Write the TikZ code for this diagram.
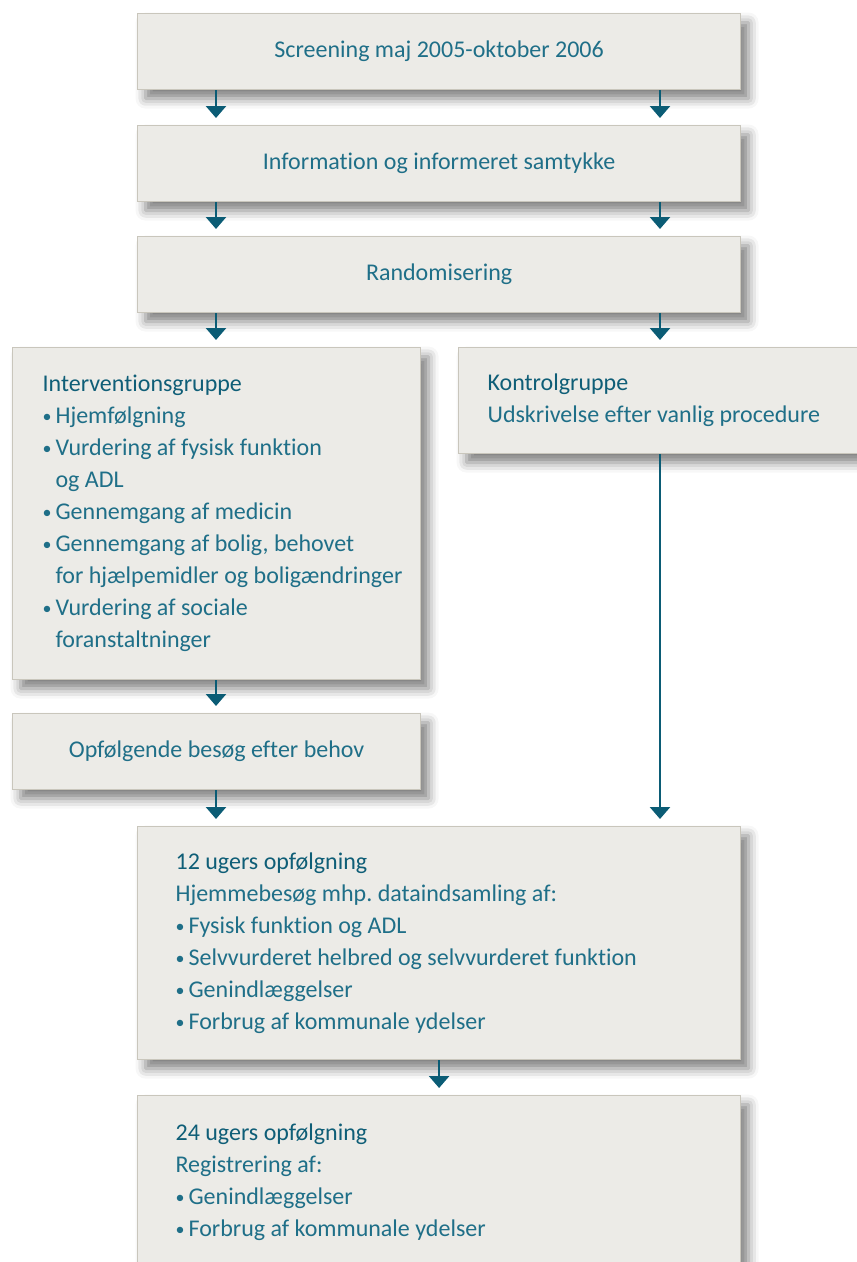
\documentclass[tikz,border=0pt]{standalone}
\usepackage{fontspec}
\setmainfont{Carlito}[Ligatures=NoCommon]
\usetikzlibrary{arrows.meta, positioning, shadows.blur}

\definecolor{boksfyld}{HTML}{ECEBE7}
\definecolor{kant}{HTML}{C9C6BC}
\definecolor{tekst}{HTML}{1F6F88}
\definecolor{overskrift}{HTML}{0F5E77}
\definecolor{pil}{HTML}{0B5C75}

\newcommand{\pkt}{\raisebox{0.12ex}{\scalebox{0.75}{\textbullet}}\,}
\newcommand{\ind}{\phantom{\pkt}}

\begin{document}
\frenchspacing
\begin{tikzpicture}[
    x=1pt, y=-1pt,
    every node/.style={font=\fontsize{24}{32}\selectfont, text=tekst},
    boks/.style={draw=kant, fill=boksfyld, line width=1.2pt, anchor=north west, inner sep=0pt,
        blur shadow={shadow xshift=8pt, shadow yshift=-9pt, shadow blur radius=10pt, shadow opacity=50}},
    bred/.style={boks, minimum width=603pt},
    smal/.style={boks, minimum width=408pt},
    pile/.style={-{Triangle[width=20pt, length=12pt]}, line width=2.6pt, draw=pil, shorten >=7pt}
]
\path[use as bounding box, clip] (0,0) rectangle (857,1262);

% Kolonner for pilene
\coordinate (vs) at (216,0);
\coordinate (hs) at (660,0);

% Bokse
\node[bred, minimum height=76pt] (screen) at (137,13) {Screening maj 2005-oktober 2006};
\node[bred, minimum height=76pt] (info) at (137,125) {Information og informeret samtykke};
\node[bred, minimum height=76pt] (rand) at (137,236) {Randomisering};

\node[smal, minimum height=332pt, text width=348pt, inner xsep=30pt, align=flush left] (interv) at (12,347)
    {{\color{overskrift}Interventionsgruppe}\\
     \pkt Hjemfølgning\\
     \pkt Vurdering af fysisk funktion\\
     \ind og ADL\\
     \pkt Gennemgang af medicin\\
     \pkt Gennemgang af bolig, behovet\\
     \mbox{\ind for hjælpemidler og boligændringer}\\
     \pkt Vurdering af sociale\\
     \ind foranstaltninger};
\node[smal, minimum height=106pt, text width=350pt, inner xsep=29pt, align=flush left] (kontrol) at (458,347)
    {{\color{overskrift}Kontrolgruppe}\\
     Udskrivelse efter vanlig procedure};
\node[smal, minimum height=76pt] (opf) at (12,713) {Opfølgende besøg efter behov};

\node[bred, minimum height=233pt, text width=527pt, inner xsep=38pt, align=flush left] (uge12) at (137,826)
    {{\color{overskrift}12 ugers opfølgning}\\
     Hjemmebesøg mhp. dataindsamling af:\\
     \pkt Fysisk funktion og ADL\\
     \pkt Selvvurderet helbred og selvvurderet funktion\\
     \pkt Genindlæggelser\\
     \pkt Forbrug af kommunale ydelser};
\node[bred, minimum height=173pt, text width=527pt, inner xsep=38pt, align=flush left] (uge24) at (137,1095)
    {{\color{overskrift}24 ugers opfølgning}\\
     Registrering af:\\
     \pkt Genindlæggelser\\
     \pkt Forbrug af kommunale ydelser};

% Pile
\foreach \a/\b in {screen/info, info/rand} {
    \draw[pile] (\a.south -| vs) -- (\b.north -| vs);
    \draw[pile] (\a.south -| hs) -- (\b.north -| hs);
}
\draw[pile] (rand.south -| vs) -- (interv.north -| vs);
\draw[pile] (rand.south -| hs) -- (kontrol.north -| hs);
\draw[pile] (interv.south -| vs) -- (opf.north -| vs);
\draw[pile] (opf.south -| vs) -- (uge12.north -| vs);
\draw[pile] (kontrol.south -| hs) -- (uge12.north -| hs);
\draw[pile] (uge12.south) -- (uge24.north);

\end{tikzpicture}
\end{document}
